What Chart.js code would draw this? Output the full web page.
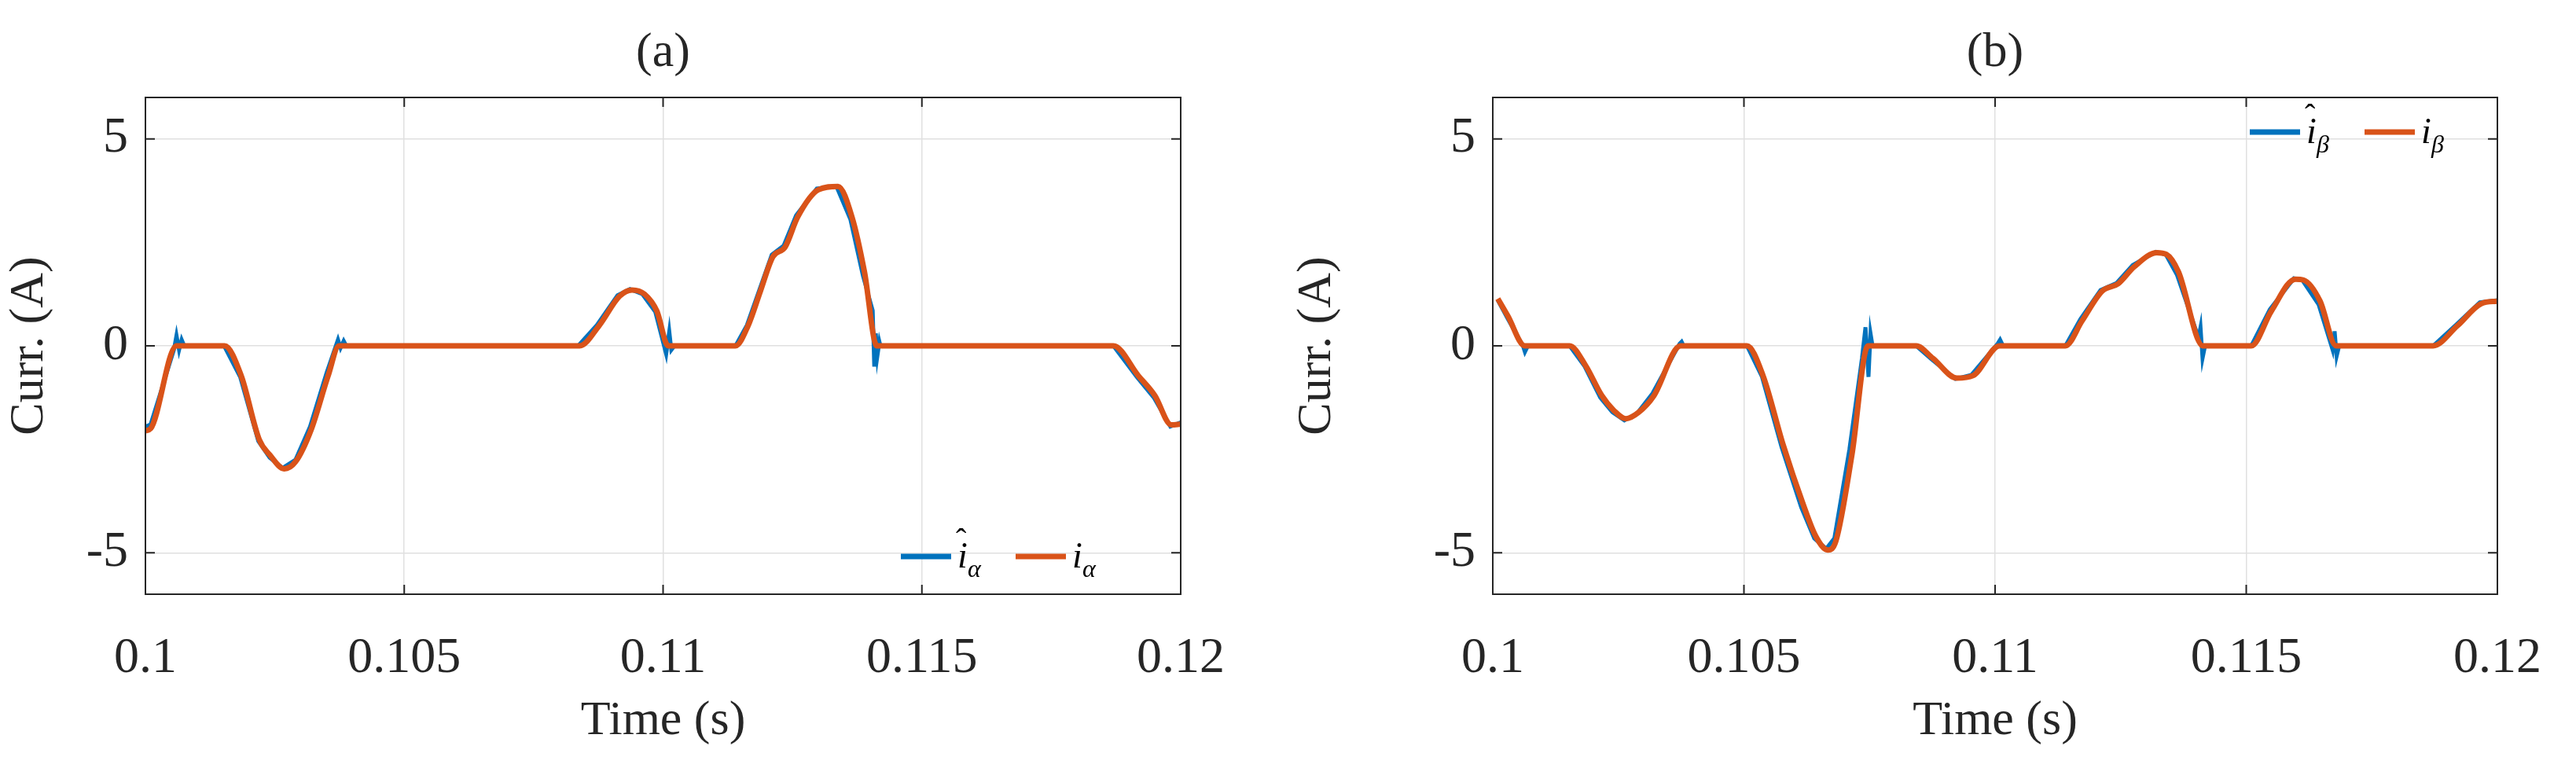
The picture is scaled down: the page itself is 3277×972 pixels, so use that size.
<!DOCTYPE html>
<html><head><meta charset="utf-8">
<script src="https://cdn.jsdelivr.net/npm/chart.js@4.4.1/dist/chart.umd.min.js"></script>
<style>html,body{margin:0;padding:0;background:#fff;width:3277px;height:972px;overflow:hidden}
.w{position:absolute;top:0;width:1638px;height:972px}</style></head><body>
<div class="w" style="left:0"><canvas id="ca" width="1638" height="972"></canvas></div>
<div class="w" style="left:1638px"><canvas id="cb" width="1639" height="972"></canvas></div>
<script>
const FAM="'Liberation Serif', 'Times New Roman', serif";
const xTicks=[0.1,0.105,0.11,0.115,0.12];
const yTicks=[-5,0,5];
// Panel (a): measured i_alpha (orange)
const aTime=[0.1,0.1001,0.1006,0.10153,0.10185,0.1022,0.1024,0.10268,0.1029,0.1032,0.10353,0.10374,0.10839,0.10876,0.10916,0.1094,0.10964,0.10988,0.1101,0.1114,0.11164,0.11188,0.11212,0.11236,0.1126,0.113,0.11338,0.11365,0.11389,0.11413,0.1187,0.11918,0.1195,0.11982,0.12];
const aMeas=[-2.05,-2.0,0,0,-0.72,-2.27,-2.63,-2.97,-2.8,-2.03,-0.72,0,0,0.48,1.2,1.35,1.25,0.84,0,0,0.48,1.32,2.15,2.39,3.11,3.77,3.85,3.11,1.79,0,0,-0.72,-1.2,-1.91,-1.89];
// Panel (a): estimated i_alpha (blue)
const aEstTime=[0.1,0.1001,0.10055,0.1006,0.10065,0.1007,0.10075,0.10152,0.10183,0.10218,0.1024,0.10265,0.1029,0.10318,0.1035,0.10372,0.10377,0.10383,0.10388,0.10836,0.10872,0.10912,0.10936,0.1096,0.10985,0.11006,0.11012,0.11016,0.11022,0.1114,0.11162,0.11186,0.1121,0.11233,0.11257,0.11297,0.11335,0.11362,0.11386,0.11405,0.11408,0.11411,0.11414,0.11418,0.1142,0.1187,0.11915,0.11948,0.1198,0.12];
const aEst=[-1.95,-1.9,-0.1,0.25,-0.1,0.15,0,0,-0.75,-2.3,-2.7,-2.95,-2.75,-1.95,-0.65,0.15,-0.05,0.12,0,0,0.5,1.22,1.37,1.25,0.82,-0.2,0.35,-0.1,0,0,0.5,1.35,2.2,2.42,3.15,3.8,3.85,3.05,1.7,0.85,-0.5,0.3,-0.25,0.1,0,0,-0.75,-1.25,-1.95,-1.85];
// Panel (b): measured i_beta (orange)
const bTime=[0.1001,0.1003,0.10064,0.10153,0.10185,0.10217,0.10241,0.10265,0.1029,0.10321,0.10374,0.10506,0.10538,0.10578,0.10618,0.10643,0.10667,0.10683,0.10715,0.10747,0.10843,0.10876,0.10924,0.10956,0.11009,0.1114,0.11173,0.11213,0.11245,0.11277,0.11322,0.11341,0.11365,0.11414,0.1151,0.1155,0.11598,0.11614,0.11647,0.11679,0.11872,0.1192,0.11968,0.12];
const bMeas=[1.14,0.72,0,0,-0.48,-1.2,-1.56,-1.76,-1.61,-1.2,0,0,-0.72,-2.39,-3.83,-4.6,-4.93,-4.72,-2.63,0,0,-0.3,-0.78,-0.72,0,0,0.6,1.32,1.5,1.91,2.25,2.21,1.79,0,0,0.84,1.61,1.59,1.08,0,0,0.48,1.02,1.08];
// Panel (b): estimated i_beta (blue)
const bEstTime=[0.1001,0.1003,0.1006,0.10064,0.1007,0.10153,0.10183,0.10214,0.10238,0.10262,0.10288,0.10318,0.10372,0.10376,0.1038,0.10506,0.10536,0.10575,0.10614,0.1064,0.10664,0.1068,0.1071,0.10735,0.10742,0.10748,0.10752,0.10756,0.10843,0.10873,0.10921,0.10953,0.11005,0.1101,0.11016,0.1114,0.1117,0.1121,0.11242,0.11274,0.1132,0.1134,0.11362,0.11405,0.11409,0.11413,0.11418,0.1151,0.11547,0.11595,0.11612,0.11644,0.11672,0.11676,0.1168,0.11685,0.11872,0.11917,0.11965,0.12];
const bEst=[1.1,0.65,0,-0.15,0,0,-0.5,-1.25,-1.6,-1.8,-1.62,-1.15,0.05,0.1,0,0,-0.75,-2.45,-3.9,-4.65,-4.9,-4.65,-2.5,-0.3,0.45,-0.75,0.3,0,0,-0.32,-0.8,-0.7,0.05,0.15,0,0,0.65,1.35,1.52,1.95,2.27,2.2,1.72,0.2,0.45,-0.3,0,0,0.88,1.63,1.58,1.0,-0.1,0.35,-0.25,0,0,0.5,1.05,1.1];

function pts(t,v){return t.map((x,i)=>({x:x,y:v[i]}));}

function makePanel(id,title,sub,tA,vA,tE,vE,pad,yW,legend){
  const overlay={id:'ov',afterDraw(c){
    const g=c.ctx,a=c.chartArea;
    g.save();
    g.strokeStyle='#262626';g.lineWidth=2;g.strokeRect(a.left,a.top,a.right-a.left,a.bottom-a.top);
    g.beginPath();
    xTicks.forEach(v=>{const x=c.scales.x.getPixelForValue(v);g.moveTo(x,a.top);g.lineTo(x,a.top+12);g.moveTo(x,a.bottom);g.lineTo(x,a.bottom-12);});
    yTicks.forEach(v=>{const y=c.scales.y.getPixelForValue(v);g.moveTo(a.left,y);g.lineTo(a.left+12,y);g.moveTo(a.right,y);g.lineTo(a.right-12,y);});
    g.stroke();
    g.fillStyle='#262626';g.textAlign='center';g.textBaseline='middle';
    g.font='62px '+FAM;
    g.fillText(title,(a.left+a.right)/2,68);
    g.fillText('Time (s)',(a.left+a.right)/2,918);
    g.save();g.translate(a.left-yW+38,(a.top+a.bottom)/2);g.rotate(-Math.PI/2);
    g.fillText('Curr. (A)',0,0);g.restore();
    const L=legend;
    const items=[['#0072BD',true],['#D95319',false]];
    let x=L.x;
    items.forEach(([col,hat])=>{
      g.strokeStyle=col;g.lineWidth=7;g.beginPath();g.moveTo(x,L.y);g.lineTo(x+64,L.y);g.stroke();
      g.fillStyle='#000';g.textAlign='left';g.textBaseline='alphabetic';
      g.font='italic 46px '+FAM;
      g.fillText('i',x+72,L.y+14);
      if(hat){g.font='40px '+FAM;g.fillText('\u02C6',x+70,L.y-8);}
      g.font='italic 32px '+FAM;g.fillText(sub,x+85,L.y+26);
      x+=146;
    });
    g.restore();
  }};
  new Chart(document.getElementById(id),{type:'line',
    data:{datasets:[
      {data:pts(tA,vA),borderColor:'#D95319',borderWidth:7,pointRadius:0,cubicInterpolationMode:'monotone'},
      {data:pts(tE,vE),borderColor:'#0072BD',borderWidth:5,pointRadius:0,tension:0}]},
    options:{responsive:false,animation:false,devicePixelRatio:1,
      layout:{padding:pad},
      plugins:{legend:{display:false},tooltip:{enabled:false}},
      scales:{
        x:{type:'linear',min:0.1,max:0.12,afterBuildTicks(s){s.ticks=xTicks.map(v=>({value:v}));},
           afterFit(s){s.height=216;},
           grid:{color:'#e0e0e0',lineWidth:1.5,drawTicks:false},border:{display:false},
           ticks:{padding:44,color:'#262626',font:{family:FAM,size:64},callback:v=>String(v),maxRotation:0}},
        y:{min:-6,max:6,afterBuildTicks(s){s.ticks=yTicks.map(v=>({value:v}));},
           afterFit(s){s.width=yW;},
           grid:{color:'#e0e0e0',lineWidth:1.5,drawTicks:false},border:{display:false},
           ticks:{padding:22,color:'#262626',font:{family:FAM,size:64},callback:v=>String(v)}}
      }},plugins:[overlay]});
}
makePanel('ca','(a)','\u03B1',aTime,aMeas,aEstTime,aEst,{top:124,left:0,right:136,bottom:0},185,{x:1146,y:708});
makePanel('cb','(b)','\u03B2',bTime,bMeas,bEstTime,bEst,{top:124,left:0,right:61,bottom:0},261,{x:1224,y:168});
</script></body></html>
